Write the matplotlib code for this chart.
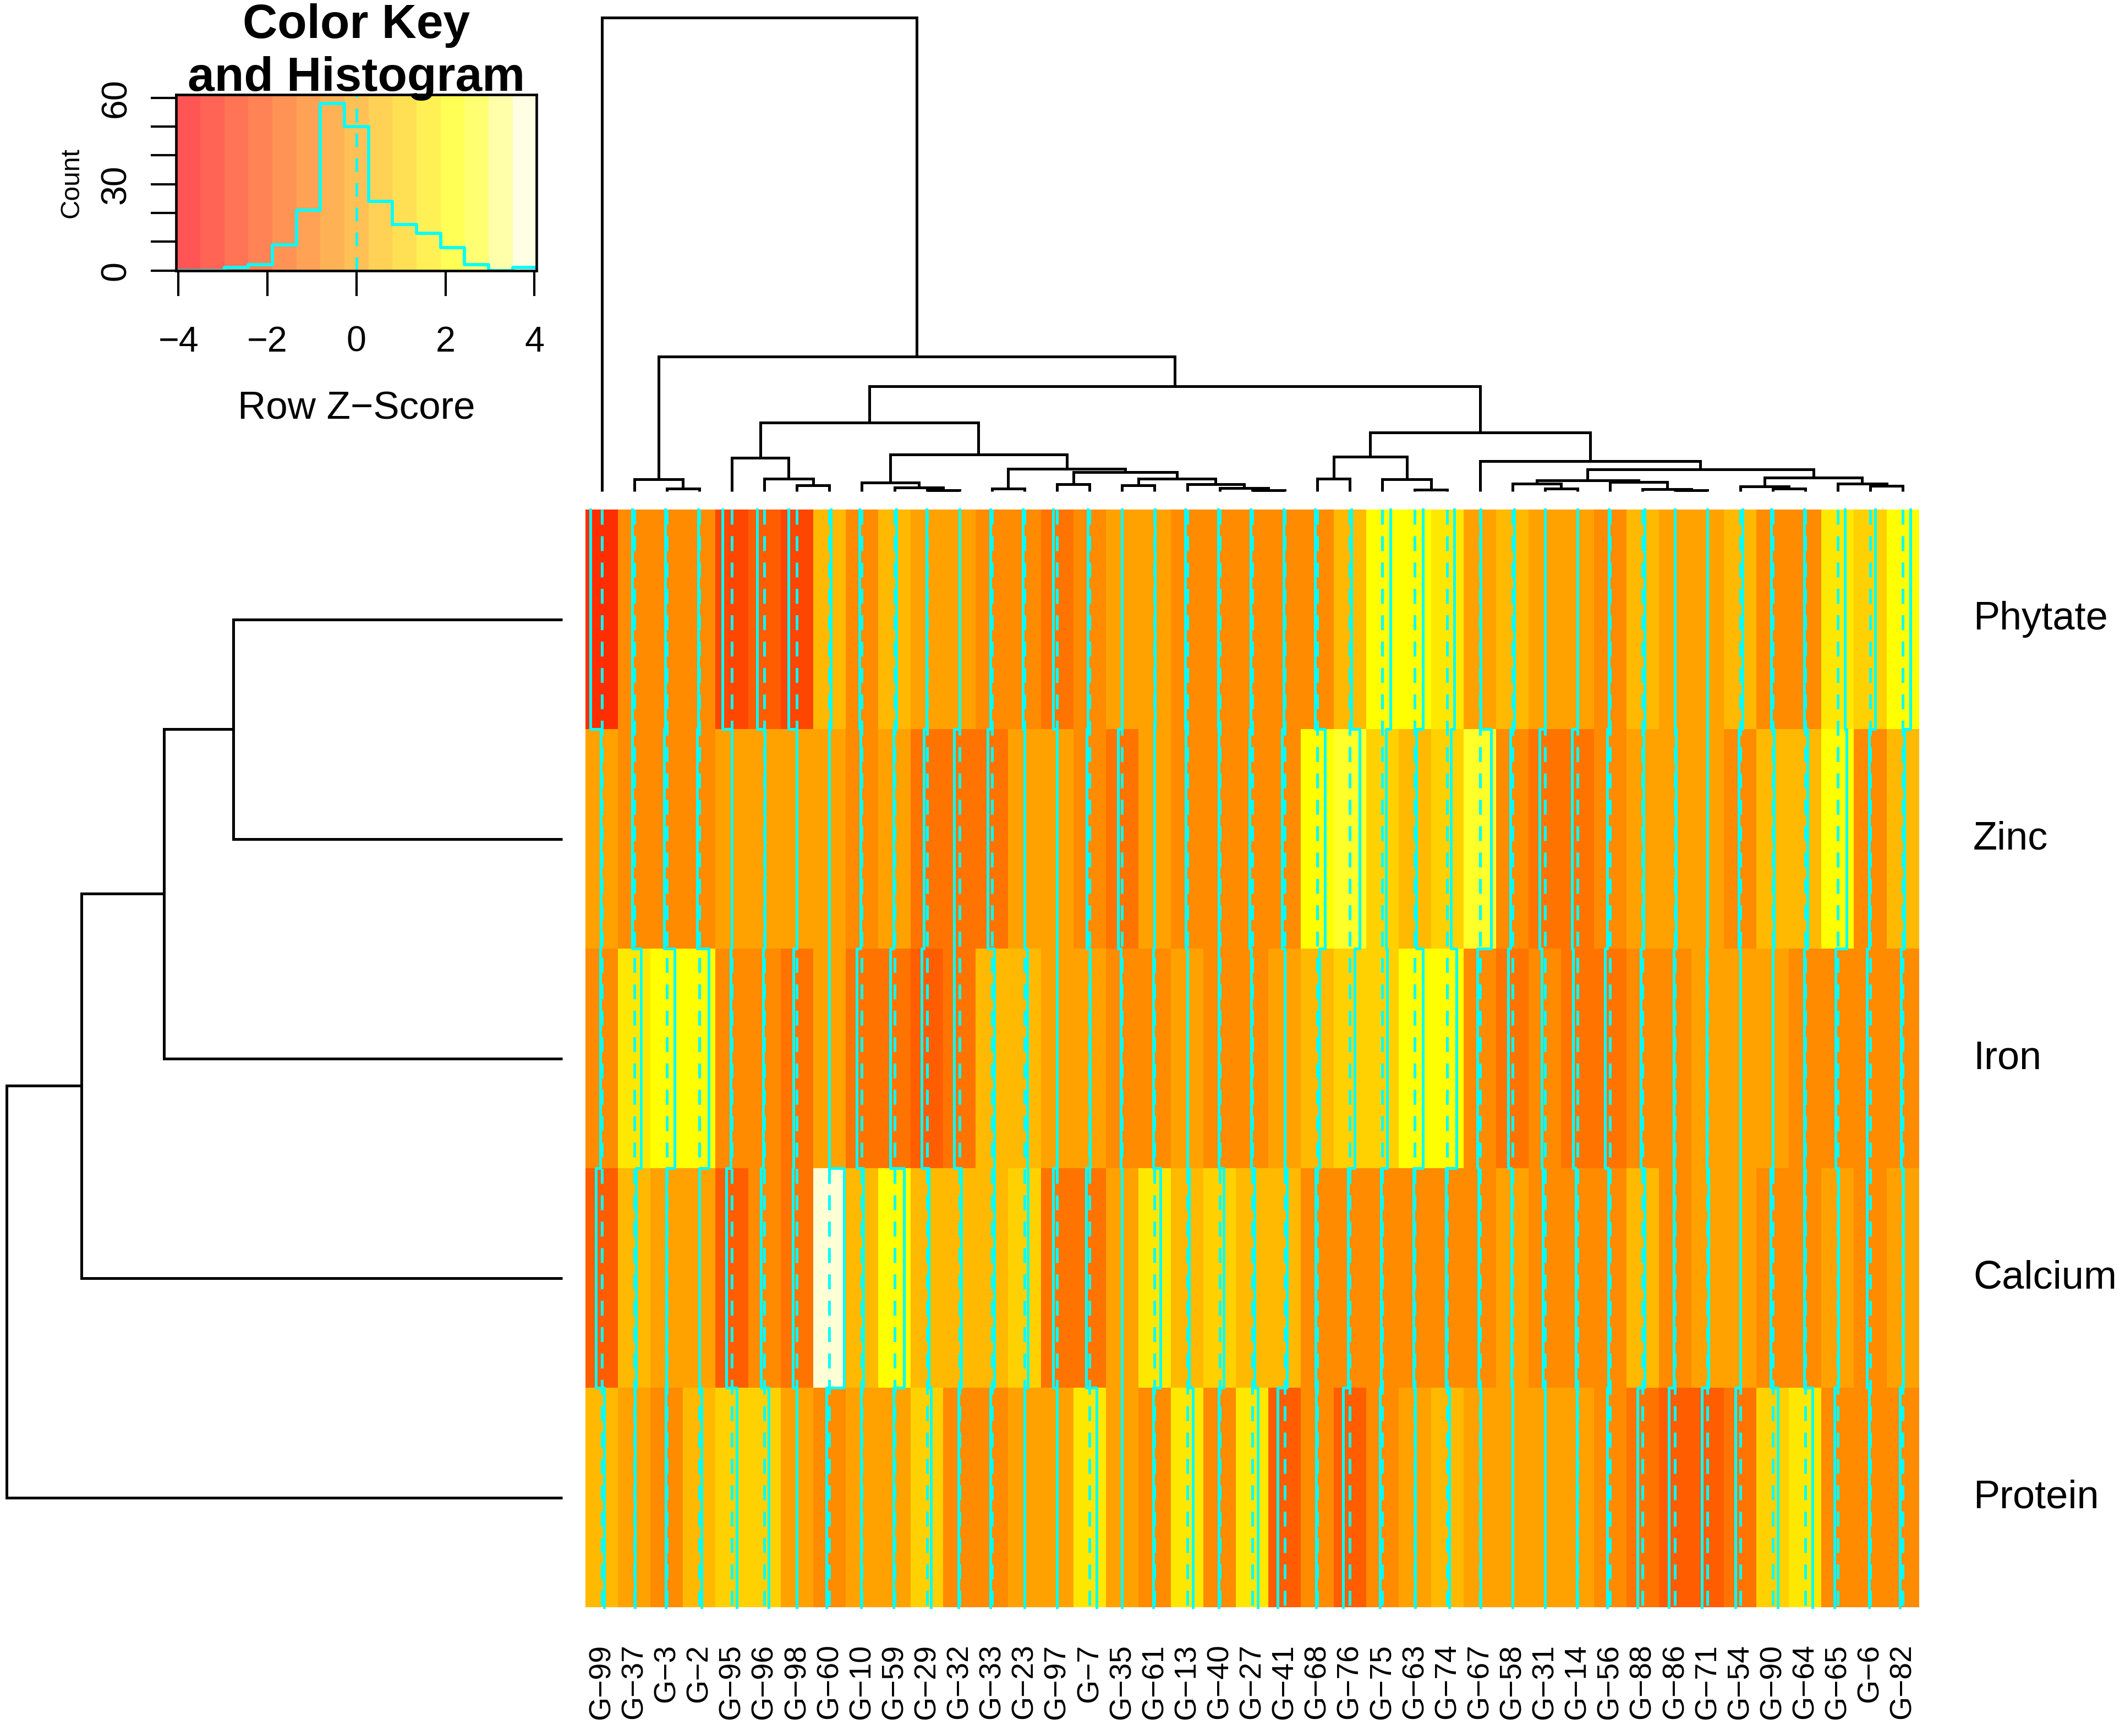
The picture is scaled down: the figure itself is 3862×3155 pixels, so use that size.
import numpy as np
import matplotlib
matplotlib.use("Agg")
import matplotlib.pyplot as plt
from matplotlib.colors import ListedColormap, BoundaryNorm
from matplotlib.transforms import blended_transform_factory

plt.rcParams['font.family'] = ['Liberation Sans', 'DejaVu Sans']

# ---------------- data ----------------
col_labels = ["G−99", "G−37", "G−3", "G−2", "G−95", "G−96", "G−98", "G−60", "G−10", "G−59",
              "G−29", "G−32", "G−33", "G−23", "G−97", "G−7", "G−35", "G−61", "G−13", "G−40",
              "G−27", "G−41", "G−68", "G−76", "G−75", "G−63", "G−74", "G−67", "G−58", "G−31",
              "G−14", "G−56", "G−88", "G−86", "G−71", "G−54", "G−90", "G−64", "G−65", "G−6", "G−82"]
row_labels = ["Phytate", "Zinc", "Iron", "Calcium", "Protein"]

phytate = [-2.78, -0.5, -0.4, -0.3, -2.4, -1.85, -2.1, 0.35, -0.6, 0.47,
           -0.15, 0.0, -0.35, -0.35, -1.0, -0.4, 0.0, 0.1, -0.5, -0.35,
           -0.35, -0.3, -0.5, 0.37, 2.0, 1.95, 1.78, 0.2, 0.5, 0.0,
           0.0, -0.3, 0.46, 0.0, 0.0, 0.58, -0.3, -0.3, 1.86, 1.28, 1.9]
zinc = [-0.15, -0.5, -0.6, -0.55, 0.0, 0.1, 0.0, 0.0, -0.3, -0.2,
        -0.84, -1.3, -1.05, 0.0, 0.0, -0.7, -0.95, 0.0, -0.3, -0.3,
        -0.6, -0.73, 1.94, 2.5, 0.9, 0.4, 0.9, 2.8, -0.5, -1.3,
        -1.34, -0.7, 0.2, 0.2, 0.0, -0.3, 0.35, 0.64, 2.15, -0.3, 0.46]
iron = [-0.4, 1.73, 2.0, 2.3, -0.3, -0.3, -0.9, 0.0, -1.26, -1.0,
        -1.36, -1.3, 0.5, 0.7, 0.0, 0.1, -0.3, -0.4, 0.1, -0.3,
        -0.3, 0.0, 0.6, 1.15, 1.2, 2.0, 2.3, -0.6, -1.05, -0.8,
        -1.05, -1.28, -0.4, -0.35, -0.2, 0.0, 0.0, -0.3, -0.5, -0.75, -0.4]
calcium = [-1.47, 0.4, -0.1, 0.0, -1.36, -0.8, -1.05, 3.67, 0.3, 2.4,
           0.47, 0.5, 0.5, 0.84, -1.0, -0.9, 0.0, 1.47, 0.4, 1.0,
           0.6, 0.6, -0.4, -0.4, -0.37, -0.37, -0.3, -0.3, -0.2, -0.5,
           -0.46, -0.4, 0.46, -0.3, 0.2, 0.0, -0.5, -0.3, 0.1, -0.75, 0.1]
protein = [0.63, 0.15, -0.3, 0.5, 1.26, 1.05, 0.0, -0.8, -0.2, -0.2,
           1.0, -0.3, -0.4, 0.0, 0.0, 1.68, 0.0, -0.4, 1.47, -0.3,
           1.36, -1.78, -0.3, -1.73, -0.63, 0.15, 0.5, 0.2, 0.0, 0.0,
           -0.15, -0.7, -1.28, -1.5, -1.45, -1.16, 1.22, 1.8, -0.75, -0.3, -0.7]

# colour breaks of the key (row z-score) and histogram counts per break bin
key_min, key_max, n_colors = -4.05, 4.05, 15
hist_counts = [0, 0, 1, 2, 9, 21, 58, 50, 24, 16, 13, 8, 2, 0, 1]
key_ticks = [-4, -2, 0, 2, 4]
count_ticks = [0, 10, 20, 30, 40, 50, 60]
count_labels = ["0", "", "", "30", "", "", "60"]

# column dendrogram: (left, right, height); leaves 0..40, merges numbered from 41
col_merges = [(2, 3, 1.8), (1, 41, 8.7), (6, 7, 4.5), (5, 43, 9.1), (4, 44, 24.8),
              (10, 11, 0.9), (9, 46, 2.7), (8, 47, 6.4), (12, 13, 1.8), (14, 15, 5.1),
              (16, 17, 4.2), (20, 21, 0.9), (19, 52, 2.2), (18, 53, 5.1), (51, 54, 9.1),
              (50, 55, 14.0), (49, 56, 16.7), (48, 57, 27.2), (45, 58, 50.5), (22, 23, 9.1),
              (25, 26, 1.3), (24, 61, 8.7), (60, 62, 25.7), (29, 30, 1.8), (28, 64, 5.5),
              (33, 34, 0.9), (32, 66, 1.5), (31, 67, 6.7), (65, 68, 8.2), (36, 37, 1.8),
              (35, 70, 3.6), (39, 40, 3.9), (38, 72, 5.5), (71, 73, 10.0), (69, 74, 16.0),
              (27, 75, 22.1), (63, 76, 43.5), (59, 77, 77.5), (42, 78, 99.5), (0, 79, 349.5)]
# row dendrogram: leaves 0..4 (rows top to bottom)
row_merges = [(0, 1, 243), (5, 2, 294), (6, 3, 355), (7, 4, 410)]

# ---------------- helpers ----------------
def heat_colors(n):
    j = n // 4
    i = n - j
    cols = []
    for k in range(i):
        h = (k / (i - 1)) * (1 / 6)
        cols.append((1.0, 6 * h, 0.0))
    for k in range(j):
        s = (1 - 1 / (2 * j)) + k * ((1 / (2 * j)) - (1 - 1 / (2 * j))) / (j - 1) if j > 1 else 0.5
        cols.append((1.0, 1.0, 1 - s))
    return cols


def draw_dendro(ax, merges, n, orient, lw=1.2):
    pos = {i: float(i) for i in range(n)}
    hgt = {i: 0.0 for i in range(n)}
    for k, (a, b, h) in enumerate(merges):
        node = n + k
        xa, xb = pos[a], pos[b]
        xs = [xa, xa, xb, xb]
        ys = [hgt[a], h, h, hgt[b]]
        if orient == 'top':
            ax.plot(xs, ys, color='black', lw=lw, clip_on=False,
                    solid_joinstyle='miter', solid_capstyle='butt')
        else:
            ax.plot(ys, xs, color='black', lw=lw, clip_on=False,
                    solid_joinstyle='miter', solid_capstyle='butt')
        pos[node] = (xa + xb) / 2
        hgt[node] = h


# ---------------- figure ----------------
W, H = 3862, 3155
dpi = 300
fig = plt.figure(figsize=(W / dpi, H / dpi), dpi=dpi)

def fx(px):  # display-scale x (1568 wide) -> figure fraction
    return px / 1568.0

def fy(py):  # display-scale y (1281 tall, from top) -> figure fraction
    return 1 - py / 1281.0

hm_l, hm_r, hm_t, hm_b = 432, 1416, 376, 1186
data = np.array([phytate, zinc, iron, calcium, protein])
nrow, ncol = data.shape
breaks = np.linspace(key_min, key_max, n_colors + 1)
cols = heat_colors(n_colors)
cmap = ListedColormap(cols)
norm = BoundaryNorm(breaks, n_colors)

ax = fig.add_axes([fx(hm_l), fy(hm_b), fx(hm_r) - fx(hm_l), fy(hm_t) - fy(hm_b)])
ax.pcolormesh(np.arange(ncol + 1) - 0.5, np.arange(nrow + 1) - 0.5, data,
              cmap=cmap, norm=norm, shading='flat', antialiased=False, linewidth=0)
ax.set_xlim(-0.5, ncol - 0.5)
ax.set_ylim(nrow - 0.5, -0.5)
ax.axis('off')

trace_col = '#00FFFF'
tlw = 1.2
span = key_max - key_min
for i in range(ncol):
    xv0 = i - 0.5 + (0 - key_min) / span
    ax.plot([xv0, xv0], [-0.5, nrow - 0.5], color=trace_col, lw=tlw,
            linestyle=(0, (6.5 / tlw, 5.0 / tlw)), clip_on=False)
    xs, ys = [], []
    for r in range(nrow - 1, -1, -1):
        xv = i - 0.5 + (data[r, i] - key_min) / span
        xs += [xv, xv]
        ys += [r + 0.5, r - 0.5]
    ax.plot(xs, ys, color=trace_col, lw=tlw, clip_on=False)

# column labels
tr = blended_transform_factory(ax.transData, fig.transFigure)
for i, lab in enumerate(col_labels):
    ax.text(i, fy(1213), lab, transform=tr, rotation=90, ha='center', va='top',
            fontsize=13.3)
# row labels
tr2 = blended_transform_factory(fig.transFigure, ax.transData)
for r, lab in enumerate(row_labels):
    ax.text(fx(1456), r, lab, transform=tr2, ha='left', va='center', fontsize=17.3)

# column dendrogram
axc = fig.add_axes([fx(hm_l), fy(362.5), fx(hm_r) - fx(hm_l), fy(13) - fy(362.5)])
draw_dendro(axc, col_merges, ncol, 'top')
axc.set_xlim(-0.5, ncol - 0.5)
axc.set_ylim(0, col_merges[-1][2])
axc.axis('off')

# row dendrogram
axr = fig.add_axes([fx(5), fy(hm_b), fx(415) - fx(5), fy(hm_t) - fy(hm_b)])
draw_dendro(axr, row_merges, nrow, 'left')
axr.set_xlim(row_merges[-1][2], 0)
axr.set_ylim(nrow - 0.5, -0.5)
axr.axis('off')

# colour key + histogram
key_cols = [tuple(0.667 * np.array(c) + 0.333) for c in cols]
axk = fig.add_axes([fx(130), fy(199.6), fx(396) - fx(130), fy(70) - fy(199.6)])
ymax = max(hist_counts) / 0.95
axk.pcolormesh(breaks, [0, ymax], np.arange(n_colors).reshape(1, -1),
               cmap=ListedColormap(key_cols), shading='flat', antialiased=False)
axk.step(breaks, hist_counts + [hist_counts[-1]], where='post', color=trace_col, lw=1.4)
axk.plot([0, 0], [0, ymax], color=trace_col, lw=1.2, linestyle=(0, (5, 4)))
axk.set_xlim(key_min, key_max)
axk.set_ylim(0, ymax)
axk.set_xticks(key_ticks)
axk.set_xticklabels([str(t).replace('-', '−') for t in key_ticks], fontsize=15.5)
axk.set_yticks(count_ticks)
axk.set_yticklabels(count_labels, fontsize=15.5, rotation=90, va='center')
axk.tick_params(axis='x', length=11, width=1.0, pad=13)
axk.tick_params(axis='y', length=11, width=1.0, pad=8)
for s in axk.spines.values():
    s.set_linewidth(1.1)

fig.text(fx(263), fy(302), "Row Z−Score", ha='center', va='center', fontsize=17)
fig.text(fx(53), fy(135), "Count", ha='center', va='center', rotation=90, fontsize=11.5)
fig.text(fx(263), fy(28), "Color Key", ha='center', va='baseline', fontsize=21,
         fontweight='bold')
fig.text(fx(263), fy(67), "and Histogram", ha='center', va='baseline', fontsize=21,
         fontweight='bold')

fig.savefig("out.png", dpi=dpi)
